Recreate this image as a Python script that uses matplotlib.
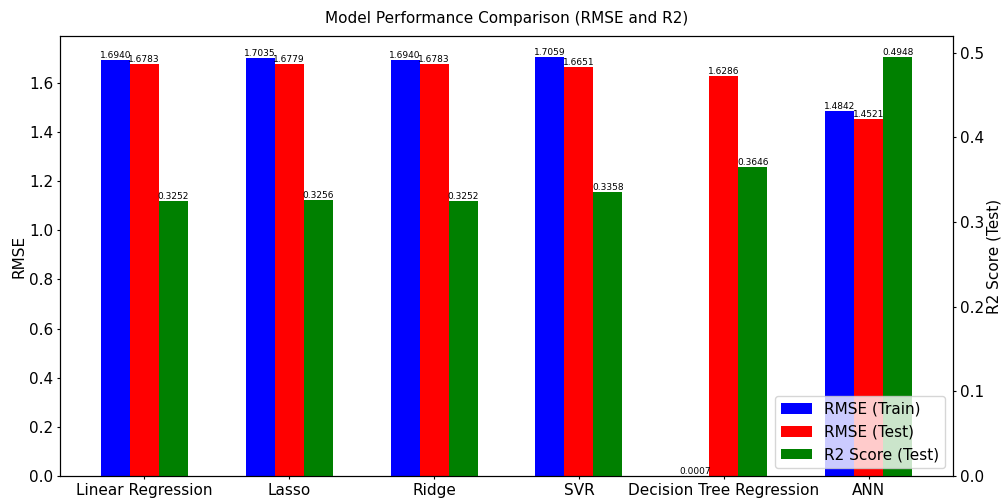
import matplotlib.pyplot as plt
import numpy as np

models = ["Linear Regression", "Lasso", "Ridge", "SVR", "Decision Tree Regression", "ANN"]
rmse_train = [1.6940, 1.7035, 1.6940, 1.7059, 0.0007, 1.4842]
rmse_test = [1.6783, 1.6779, 1.6783, 1.6651, 1.6286, 1.4521]
r2_test = [0.3252, 0.3256, 0.3252, 0.3358, 0.3646, 0.4948]

x = np.arange(len(models))
w = 0.2

fig, ax1 = plt.subplots(figsize=(10.03, 5), dpi=100)
ax2 = ax1.twinx()

b1 = ax1.bar(x - w, rmse_train, w, color="blue", label="RMSE (Train)")
b2 = ax1.bar(x, rmse_test, w, color="red", label="RMSE (Test)")
b3 = ax2.bar(x + w, r2_test, w, color="green", label="R2 Score (Test)")

# etiquetas de valores
for bars, ax in [(b1, ax1), (b2, ax1), (b3, ax2)]:
    for b in bars:
        ax.text(b.get_x() + b.get_width() / 2, b.get_height(), f"{b.get_height():.4f}",
                ha="center", va="bottom", fontsize=6.5)

ax1.set_xticks(x)
ax1.set_xticklabels(models, fontsize=11)
for ax in (ax1, ax2):
    ax.tick_params(axis="both", labelsize=11, length=2.5, pad=2.5)
ax1.set_ylabel("RMSE", fontsize=11, labelpad=2)
ax2.set_ylabel("R2 Score (Test)", fontsize=11, labelpad=2)
ax1.set_title("Model Performance Comparison (RMSE and R2)", fontsize=11, pad=9)

handles = [b1, b2, b3]
ax2.legend(handles, [h.get_label() for h in handles], loc="lower right", fontsize=11)

plt.subplots_adjust(left=0.06, right=0.95, top=0.928, bottom=0.048)
plt.savefig("out.png", dpi=100)
plt.close()
